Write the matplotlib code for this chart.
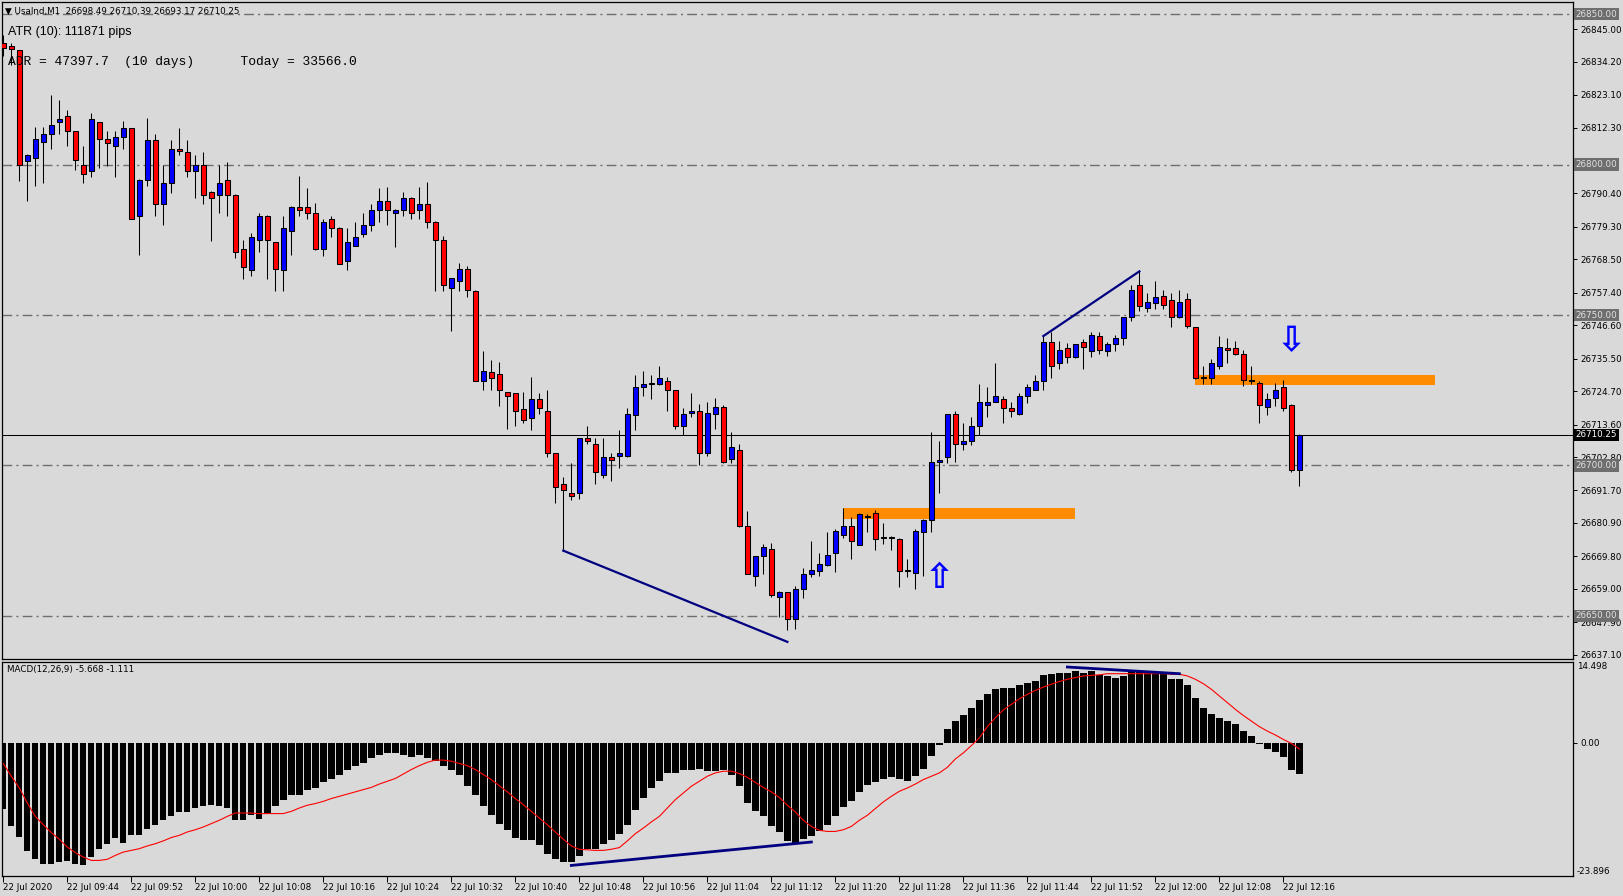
import matplotlib
matplotlib.use("Agg")
import matplotlib.pyplot as plt
import numpy as np

# UsaInd M1, 22 Jul 2020, one bar per minute from 09:36 to 12:18
opens = [26840.5, 26839.4, 26838.0, 26801.1, 26802.1, 26807.4, 26810.0, 26814.0, 26816.0, 26811.0,
         26800.0, 26798.0, 26814.0, 26808.4, 26806.0, 26809.0, 26812.0, 26782.8, 26795.0, 26808.0,
         26787.0, 26794.0, 26805.0, 26804.0, 26798.0, 26800.0, 26790.8, 26790.0, 26795.0, 26790.0,
         26771.8, 26765.0, 26775.0, 26783.0, 26774.2, 26764.8, 26777.8, 26785.8, 26786.0, 26784.0,
         26772.0, 26782.0, 26779.0, 26767.8, 26773.0, 26776.8, 26780.0, 26784.8, 26787.8, 26784.0,
         26785.0, 26789.0, 26785.0, 26787.0, 26781.0, 26775.0, 26759.0, 26761.2, 26765.2, 26757.9,
         26728.0, 26731.0, 26730.3, 26724.3, 26724.0, 26718.7, 26715.7, 26722.0, 26718.0, 26704.0,
         26693.8, 26691.0, 26691.0, 26709.0, 26707.0, 26697.0, 26702.7, 26703.0, 26703.0, 26716.7,
         26726.0, 26727.2, 26727.0, 26728.0, 26725.0, 26713.0, 26717.3, 26718.0, 26704.0, 26717.0,
         26719.3, 26702.0, 26705.0, 26680.0, 26663.2, 26669.8, 26672.1, 26656.2, 26657.9, 26649.0,
         26658.8, 26663.8, 26664.9, 26666.8, 26670.8, 26676.8, 26680.0, 26673.7, 26682.8, 26684.2,
         26675.9, 26675.9, 26675.6, 26665.1, 26664.2, 26677.8, 26682.0, 26701.0, 26702.7, 26717.0,
         26707.0, 26708.0, 26713.0, 26720.0, 26721.0, 26722.0, 26719.0, 26717.0, 26723.0, 26725.0,
         26728.0, 26741.0, 26734.0, 26739.0, 26736.0, 26741.0, 26738.0, 26743.0, 26738.0, 26740.3,
         26742.2, 26749.2, 26759.9, 26752.2, 26753.9, 26756.2, 26754.9, 26749.2, 26755.2, 26746.0,
         26729.1, 26729.0, 26733.0, 26739.0, 26739.0, 26737.0, 26728.2, 26727.3, 26719.3, 26722.3,
         26726.0, 26720.0, 26698.49]
highs = [26843.0, 26840.3, 26838.2, 26803.5, 26812.4, 26812.4, 26823.0, 26821.4, 26818.0, 26811.2,
         26806.0, 26817.0, 26814.2, 26811.0, 26811.0, 26814.5, 26812.2, 26795.2, 26815.3, 26810.0,
         26800.0, 26808.0, 26812.0, 26808.0, 26803.0, 26804.0, 26791.3, 26800.0, 26801.0, 26790.2,
         26775.0, 26777.3, 26784.0, 26783.2, 26774.4, 26783.0, 26786.2, 26796.2, 26792.2, 26787.2,
         26782.0, 26783.0, 26779.2, 26779.0, 26781.0, 26784.0, 26787.0, 26792.2, 26792.5, 26785.2,
         26791.0, 26789.2, 26792.5, 26794.2, 26781.2, 26776.1, 26762.4, 26767.2, 26766.2, 26758.2,
         26738.0, 26735.0, 26734.4, 26724.5, 26724.2, 26724.3, 26729.3, 26724.0, 26725.0, 26704.2,
         26696.1, 26700.7, 26709.2, 26713.0, 26709.0, 26709.0, 26704.0, 26711.7, 26719.0, 26730.0,
         26731.3, 26730.0, 26733.0, 26729.3, 26725.2, 26719.0, 26724.0, 26720.3, 26721.0, 26722.3,
         26720.0, 26711.0, 26707.0, 26685.0, 26670.0, 26673.8, 26674.2, 26658.2, 26658.0, 26660.0,
         26666.0, 26675.0, 26670.8, 26677.9, 26678.8, 26685.9, 26683.0, 26684.1, 26684.0, 26685.1,
         26681.0, 26676.5, 26675.8, 26669.0, 26679.0, 26682.2, 26711.0, 26708.0, 26717.2, 26718.0,
         26714.0, 26716.0, 26727.0, 26726.1, 26734.0, 26723.0, 26721.0, 26724.0, 26727.0, 26730.0,
         26743.0, 26744.3, 26741.3, 26740.6, 26740.5, 26742.0, 26744.3, 26744.3, 26741.0, 26743.3,
         26749.4, 26759.9, 26764.5, 26757.2, 26761.2, 26758.2, 26757.2, 26758.2, 26757.2, 26746.1,
         26733.0, 26735.3, 26743.0, 26742.2, 26741.3, 26738.3, 26733.0, 26728.0, 26724.0, 26727.3,
         26728.3, 26720.3, 26710.39]
lows = [26836.0, 26833.0, 26794.6, 26788.0, 26793.0, 26794.0, 26805.0, 26810.0, 26806.0, 26798.2,
        26794.0, 26796.0, 26799.0, 26799.6, 26796.0, 26805.0, 26782.0, 26770.0, 26793.0, 26782.8,
        26780.0, 26790.6, 26803.0, 26796.0, 26789.0, 26787.0, 26774.7, 26784.0, 26782.8, 26769.0,
        26761.9, 26763.0, 26771.0, 26762.0, 26757.9, 26757.9, 26770.0, 26783.0, 26782.0, 26771.5,
        26769.7, 26775.8, 26766.8, 26764.8, 26772.8, 26776.0, 26777.8, 26780.8, 26779.8, 26772.7,
        26782.8, 26781.8, 26781.8, 26779.0, 26757.9, 26757.9, 26744.8, 26757.9, 26755.9, 26728.0,
        26725.0, 26725.0, 26719.7, 26712.0, 26713.0, 26714.0, 26711.7, 26717.0, 26702.7, 26687.6,
        26671.7, 26688.6, 26689.0, 26707.0, 26693.8, 26696.0, 26695.0, 26699.0, 26702.7, 26711.7,
        26723.0, 26722.0, 26726.8, 26718.0, 26712.0, 26710.0, 26716.0, 26700.0, 26703.0, 26712.0,
        26700.7, 26700.7, 26679.7, 26663.8, 26660.0, 26663.8, 26656.2, 26649.6, 26645.5, 26645.8,
        26656.0, 26662.9, 26663.2, 26666.7, 26664.7, 26676.0, 26668.8, 26673.6, 26678.0, 26671.8,
        26673.8, 26671.8, 26659.7, 26662.9, 26658.8, 26663.2, 26678.0, 26690.8, 26700.7, 26701.0,
        26705.0, 26706.7, 26710.0, 26716.0, 26721.0, 26714.0, 26716.0, 26716.8, 26720.7, 26725.0,
        26725.0, 26729.0, 26732.0, 26734.0, 26735.8, 26732.0, 26736.0, 26737.0, 26736.3, 26738.0,
        26740.0, 26747.9, 26751.2, 26750.9, 26751.9, 26751.9, 26746.0, 26749.0, 26745.8, 26728.9,
        26727.0, 26727.0, 26732.0, 26734.0, 26736.8, 26726.3, 26727.0, 26714.0, 26716.7, 26719.7,
        26718.0, 26698.0, 26693.17]
closes = [26838.8, 26838.3, 26800.0, 26803.1, 26808.4, 26810.0, 26813.0, 26815.0, 26811.0, 26801.4,
          26797.0, 26815.0, 26808.4, 26807.0, 26809.0, 26812.0, 26782.0, 26795.0, 26808.0, 26787.0,
          26793.8, 26805.0, 26804.4, 26798.0, 26800.0, 26790.0, 26789.0, 26794.0, 26790.0, 26771.0,
          26765.8, 26776.0, 26783.0, 26775.0, 26765.2, 26778.8, 26786.0, 26785.0, 26784.0, 26771.8,
          26781.0, 26779.0, 26767.0, 26774.2, 26776.0, 26780.0, 26785.0, 26788.0, 26785.0, 26785.0,
          26789.0, 26784.0, 26786.8, 26781.0, 26774.8, 26760.0, 26762.2, 26765.2, 26758.2, 26728.0,
          26731.3, 26729.0, 26725.0, 26723.0, 26718.0, 26715.0, 26722.0, 26719.0, 26704.0, 26693.0,
          26692.0, 26690.0, 26709.0, 26708.0, 26697.7, 26702.7, 26701.7, 26704.0, 26717.0, 26726.0,
          26727.0, 26727.4, 26729.0, 26725.0, 26713.0, 26717.0, 26718.0, 26704.0, 26717.3, 26719.3,
          26701.0, 26706.0, 26680.0, 26664.0, 26669.8, 26673.0, 26656.9, 26657.9, 26649.0, 26658.8,
          26663.8, 26665.2, 26667.2, 26670.2, 26678.1, 26680.0, 26675.0, 26684.0, 26683.2, 26675.5,
          26676.1, 26676.1, 26665.0, 26665.3, 26678.1, 26682.0, 26701.0, 26701.7, 26717.0, 26707.0,
          26708.0, 26713.0, 26721.0, 26721.0, 26723.0, 26719.0, 26718.0, 26723.0, 26726.0, 26728.0,
          26741.0, 26733.0, 26738.3, 26736.0, 26740.3, 26739.3, 26743.3, 26738.3, 26740.3, 26742.2,
          26749.2, 26758.2, 26752.9, 26754.2, 26755.9, 26753.2, 26749.2, 26754.2, 26746.2, 26729.0,
          26729.3, 26734.0, 26739.3, 26738.3, 26737.0, 26728.3, 26728.4, 26720.0, 26722.0, 26725.0,
          26719.0, 26698.5, 26710.25]

# MACD(12,26,9): histogram (main line) and red signal line, one value per bar
macd_hist = [-11.8, -15.0, -16.9, -19.4, -20.9, -21.7, -21.8, -21.4, -21.2, -21.7,
             -22.0, -20.5, -19.1, -18.2, -17.0, -17.9, -16.6, -16.6, -15.4, -14.7,
             -13.8, -13.2, -12.4, -12.4, -11.7, -11.4, -11.2, -11.4, -11.7, -13.8,
             -13.8, -13.0, -13.6, -12.7, -11.4, -10.3, -9.4, -9.4, -8.5, -8.1,
             -7.1, -6.5, -5.7, -4.8, -4.2, -3.6, -2.7, -2.1, -1.8, -1.8,
             -2.1, -2.5, -2.1, -2.7, -3.3, -4.1, -4.8, -5.7, -7.8, -9.4,
             -11.4, -13.0, -14.5, -15.6, -17.0, -17.5, -17.5, -18.4, -20.0, -20.9,
             -21.4, -21.4, -20.3, -19.1, -19.0, -18.1, -17.5, -16.4, -14.7, -12.0,
             -9.9, -8.1, -6.9, -5.4, -5.4, -4.9, -4.9, -4.7, -5.1, -5.1,
             -4.9, -5.7, -7.7, -10.8, -12.3, -13.2, -15.0, -16.0, -17.6, -17.9,
             -17.2, -16.7, -15.8, -14.8, -13.2, -11.5, -10.5, -8.9, -7.6, -7.1,
             -6.5, -6.2, -6.5, -6.9, -6.0, -4.7, -2.4, -0.4, 2.4, 3.9,
             4.9, 6.2, 7.6, 8.7, 9.6, 9.9, 9.9, 10.3, 10.7, 11.0,
             12.1, 12.3, 12.6, 12.6, 12.8, 12.6, 12.8, 12.2, 11.9, 11.7,
             11.9, 12.8, 12.8, 12.6, 12.6, 12.4, 11.5, 11.4, 10.3, 8.0,
             6.2, 5.1, 4.5, 4.0, 3.3, 2.2, 1.3, -0.3, -1.2, -1.7,
             -2.6, -4.8, -5.668]
macd_signal = [-3.7, -6.0, -8.1, -10.8, -13.2, -14.7, -16.1, -17.3, -18.7, -19.7,
               -20.5, -21.1, -21.1, -20.9, -20.2, -19.6, -19.3, -19.0, -18.5, -18.1,
               -17.6, -17.0, -16.6, -16.0, -15.6, -15.1, -14.5, -13.9, -13.2, -12.6,
               -12.6, -12.6, -12.7, -12.7, -12.7, -12.7, -12.3, -11.7, -11.2, -10.9,
               -10.5, -10.0, -9.6, -9.2, -8.8, -8.4, -8.0, -7.4, -6.9, -6.4,
               -5.6, -4.8, -4.1, -3.5, -3.1, -3.1, -3.3, -3.7, -4.1, -4.8,
               -5.7, -6.6, -7.7, -8.8, -10.0, -11.1, -12.3, -13.5, -14.7, -16.0,
               -17.3, -18.5, -19.1, -19.2, -19.3, -19.3, -19.1, -18.8, -17.6, -16.3,
               -15.3, -14.2, -13.2, -11.7, -10.2, -9.0, -7.8, -6.9, -6.0, -5.4,
               -5.1, -5.1, -5.5, -6.2, -7.1, -8.0, -8.8, -9.8, -11.2, -12.4,
               -13.9, -15.0, -15.7, -15.9, -15.9, -15.6, -15.0, -13.9, -13.0, -11.8,
               -10.6, -9.6, -8.7, -8.1, -7.4, -6.6, -6.0, -5.4, -4.4, -2.9,
               -1.8, -0.5, 0.9, 2.9, 4.5, 5.9, 6.9, 7.9, 8.7, 9.4,
               10.0, 10.5, 11.0, 11.4, 11.7, 12.0, 12.1, 12.2, 12.4, 12.4,
               12.4, 12.4, 12.4, 12.4, 12.4, 12.4, 12.3, 12.3, 12.0, 11.4,
               10.6, 9.6, 8.4, 7.2, 6.0, 4.9, 3.9, 2.9, 2.1, 1.4,
               0.6, -0.1, -1.111]

time_labels = ["22 Jul 2020", "22 Jul 09:44", "22 Jul 09:52", "22 Jul 10:00", "22 Jul 10:08",
               "22 Jul 10:16", "22 Jul 10:24", "22 Jul 10:32", "22 Jul 10:40", "22 Jul 10:48",
               "22 Jul 10:56", "22 Jul 11:04", "22 Jul 11:12", "22 Jul 11:20", "22 Jul 11:28",
               "22 Jul 11:36", "22 Jul 11:44", "22 Jul 11:52", "22 Jul 12:00", "22 Jul 12:08",
               "22 Jul 12:16"]
time_label_bars = [0, 8, 16, 24, 32, 40, 48, 56, 64, 72, 80, 88, 96, 104, 112, 120, 128, 136, 144, 152, 160]

price_ticks = [26845.00, 26834.20, 26823.10, 26812.30, 26801.30, 26790.40, 26779.30, 26768.50,
               26757.40, 26746.60, 26735.50, 26724.70, 26713.60, 26702.80, 26691.70, 26680.90,
               26669.80, 26659.00, 26647.90, 26637.10]
round_levels = [26850.0, 26800.0, 26750.0, 26700.0, 26650.0]
last_price = 26710.25
macd_max, macd_min = 14.498, -23.896

# drawn objects: (bar, price) end points
trend_main = [((70, 26671.7), (98, 26641.4)), ((130, 26743.0), (142, 26764.5))]
trend_macd = [((71, -22.0), (101, -17.8)), ((133, 13.6), (147, 12.4))]
zones = [(105, 134, 26682.3, 26685.9), (149, 179, 26726.7, 26730.1)]
arrows = [(117, 26662.6, "\u21e7"), (161, 26741.4, "\u21e9")]

BG = "#d9d9d9"
W, H = 1624, 896
plt.rcParams["font.family"] = ["DejaVu Sans"]

fig = plt.figure(figsize=(W / 100, H / 100), dpi=100, facecolor=BG)


def px_axes(x0, y0, x1, y1):
    return fig.add_axes([x0 / W, 1 - y1 / H, (x1 - x0) / W, (y1 - y0) / H], facecolor=BG)


ax = px_axes(2, 2, 1573, 659)
ax2 = px_axes(2, 662, 1573, 876)

n = len(closes)
x = np.arange(n)
o, h, l, c = (np.array(v) for v in (opens, highs, lows, closes))
up = c >= o
lw_px = 0.75

# candles
ax.vlines(x, l, h, color="black", lw=lw_px, zorder=3)
bot = np.minimum(o, c)
hgt = np.abs(c - o)
ax.bar(x[up], hgt[up], bottom=bot[up], width=0.6, color="#0000ff", edgecolor="black", lw=lw_px, zorder=4)
ax.bar(x[~up], hgt[~up], bottom=bot[~up], width=0.6, color="#ff0000", edgecolor="black", lw=lw_px, zorder=4)

# levels
for lv in round_levels:
    ax.axhline(lv, color="#6e6e6e", lw=1.0, ls=(0, (7, 3, 1.5, 3)), zorder=1)
ax.axhline(last_price, color="black", lw=lw_px, zorder=2)

# zones
for b0, b1, p0, p1 in zones:
    ax.fill_between([b0, b1], p0, p1, color="#ff8c00", lw=0, zorder=2)

# trend lines
for (b0, p0), (b1, p1) in trend_main:
    ax.plot([b0, b1], [p0, p1], color="#000080", lw=1.6, zorder=5)

for b, p, sym in arrows:
    ax.text(b, p, sym, color="#0000ff", fontsize=25, fontweight="bold", ha="center", va="center", zorder=6)

ax.set_xlim(-0.16, 196.2)
ax.set_ylim(26635.7, 26854.0)
ax.set_xticks([])
ax.yaxis.tick_right()
ax.set_yticks(price_ticks)
# the 26801.30 label sits under the 26800.00 level box
ax.set_yticklabels(["" if abs(p - 26801.3) < 0.01 else f"{p:.2f}" for p in price_ticks])
ax.tick_params(axis="y", direction="out", length=3, width=0.7, labelsize=6.3, pad=2, colors="black")

yt = ax.get_yaxis_transform()
for lv in round_levels:
    ax.text(1.0018, lv, f"{lv:.2f}", transform=yt, fontsize=6.3, color="#e2e2e2", va="center", ha="left",
            bbox=dict(boxstyle="square,pad=0.18", fc="#6e6e6e", ec="none"), clip_on=False, zorder=10)
ax.text(1.0018, last_price, f"{last_price:.2f}", transform=yt, fontsize=6.3, color="white", va="center",
        ha="left", bbox=dict(boxstyle="square,pad=0.18", fc="black", ec="none"), clip_on=False, zorder=11)

# MACD panel
ax2.bar(x, macd_hist, width=0.8, color="black", lw=0, zorder=2)
ax2.plot(x, macd_signal, color="#ff0000", lw=0.8, zorder=3)
for (b0, v0), (b1, v1) in trend_macd:
    ax2.plot([b0, b1], [v0, v1], color="#000080", lw=2.0, zorder=4)
ax2.set_xlim(-0.16, 196.2)
ax2.set_ylim(macd_min, macd_max)
ax2.yaxis.tick_right()
ax2.set_yticks([0])
ax2.set_yticklabels(["0.00"])
ax2.tick_params(axis="y", direction="out", length=3, width=0.7, labelsize=6.3, pad=2)
ax2.set_xticks(time_label_bars)
ax2.set_xticklabels(time_labels)
ax2.tick_params(axis="x", direction="out", length=4, width=0.7, labelsize=6.3, pad=1)
for lbl in ax2.get_xticklabels():
    lbl.set_horizontalalignment("left")
ax2.text(1.0025, 1.0, f"{macd_max:.3f}", transform=ax2.transAxes, fontsize=6.3, va="top", ha="left")
ax2.text(1.0025, 0.0, f"{macd_min:.3f}", transform=ax2.transAxes, fontsize=6.3, va="bottom", ha="left")
ax2.text(0.003, 0.963, f"MACD(12,26,9) {macd_hist[-1]:.3f} {macd_signal[-1]:.3f}", transform=ax2.transAxes,
         fontsize=6.3, va="center", ha="left")

for a in (ax, ax2):
    for s in a.spines.values():
        s.set_color("black")
        s.set_linewidth(0.9)

# header texts
fig.text(5 / W, 1 - 11 / H, "\u25bc UsaInd,M1  26698.49 26710.39 26693.17 26710.25", fontsize=6.3,
         va="center", ha="left")
fig.text(8 / W, 1 - 32 / H, "ATR (10): 111871 pips", fontsize=9, family="Liberation Sans",
         va="center", ha="left")
fig.text(8 / W, 1 - 62 / H, "ADR = 47397.7  (10 days)      Today = 33566.0", fontsize=9.4,
         family="Liberation Mono", va="center", ha="left")

fig.savefig("out.png", dpi=100, facecolor=BG)
